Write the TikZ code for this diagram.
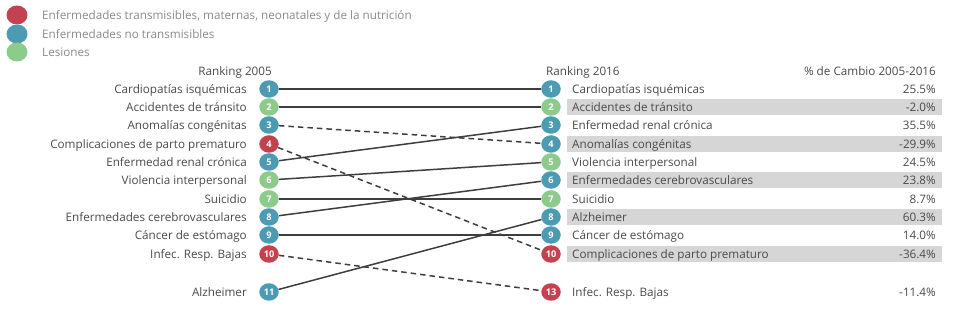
\documentclass[tikz,border=0pt]{standalone}
\usepackage{fontspec}
\setmainfont{Open Sans}
\usetikzlibrary{shapes.geometric}
\definecolor{cred}{HTML}{C4424F}
\definecolor{cblue}{HTML}{4C9BB2}
\definecolor{cgreen}{HTML}{8CCB8C}
\definecolor{ctext}{HTML}{4A4A4A}
\definecolor{clegend}{HTML}{8A8A8A}
\definecolor{cband}{HTML}{D6D6D6}
\definecolor{cline}{HTML}{3E3E3E}
\tikzset{
  rk/.style={ellipse, inner sep=0pt, minimum width=19.5pt, minimum height=17.5pt, text=white, font=\fontsize{9.2}{9}\selectfont\bfseries},
  rr/.style={rk, fill=cred},
  rb/.style={rk, fill=cblue},
  rg/.style={rk, fill=cgreen},
  lab/.style={font=\fontsize{11.7}{12}\selectfont, text=ctext, inner sep=0pt, text height=11pt, text depth=2pt},
  lleft/.style={lab, anchor=east},
  lright/.style={lab, anchor=west},
  pct/.style={lab, anchor=east},
  leg/.style={lab, text=clegend, anchor=west},
  legdot/.style={ellipse, minimum width=21pt, minimum height=19pt, inner sep=0pt},
  conn/.style={draw=cline, line width=1.5pt},
  dconn/.style={conn, dash pattern=on 5.5pt off 4pt}
}
\begin{document}
\begin{tikzpicture}[x=1pt,y=-1pt]
\useasboundingbox (0,0) rectangle (963,328);
% legend
\node[legdot, fill=cred] (l1) at (17,15) {};
\node[legdot, fill=cblue] (l2) at (17,34) {};
\node[legdot, fill=cgreen] (l3) at (17,52) {};
\node[leg] (t1) at (42,15) {Enfermedades transmisibles, maternas, neonatales y de la nutrición};
\node[leg] (t2) at (42,34) {Enfermedades no transmisibles};
\node[leg] (t3) at (42,52) {Lesiones};
% headers
\node[lab, anchor=east] (h1) at (272,71) {Ranking 2005};
\node[lab, anchor=west] (h2) at (546,71) {Ranking 2016};
\node[lab, anchor=east] (h3) at (936,71) {\% de Cambio 2005-2016};
% bands
\foreach \y in {107,144,180,217,254} {
  \fill[cband] (567,\y-8.3) rectangle (942,\y+8.3);
}
% left side
\node[rb] (a1) at (269,89) {1};
\node[rg] (a2) at (269,107) {2};
\node[rb] (a3) at (269,125) {3};
\node[rr] (a4) at (269,144) {4};
\node[rb] (a5) at (269,162) {5};
\node[rg] (a6) at (269,180) {6};
\node[rg] (a7) at (269,199) {7};
\node[rb] (a8) at (269,217) {8};
\node[rb] (a9) at (269,235) {9};
\node[rr] (a10) at (269,254) {10};
\node[rb] (a11) at (269,292) {11};
\node[lleft] at (247,89) {Cardiopatías isquémicas};
\node[lleft] at (247,107) {Accidentes de tránsito};
\node[lleft] at (247,125) {Anomalías congénitas};
\node[lleft] at (247,144) {Complicaciones de parto prematuro};
\node[lleft] at (247,162) {Enfermedad renal crónica};
\node[lleft] at (247,180) {Violencia interpersonal};
\node[lleft] at (247,199) {Suicidio};
\node[lleft] at (247,217) {Enfermedades cerebrovasculares};
\node[lleft] at (247,235) {Cáncer de estómago};
\node[lleft] at (247,254) {Infec. Resp. Bajas};
\node[lleft] at (247,292) {Alzheimer};
% right side
\node[rb] (b1) at (551,89) {1};
\node[rg] (b2) at (551,107) {2};
\node[rb] (b3) at (551,125) {3};
\node[rb] (b4) at (551,144) {4};
\node[rg] (b5) at (551,162) {5};
\node[rb] (b6) at (551,180) {6};
\node[rg] (b7) at (551,199) {7};
\node[rb] (b8) at (551,217) {8};
\node[rb] (b9) at (551,235) {9};
\node[rr] (b10) at (551,254) {10};
\node[rr] (b13) at (551,292) {13};
\node[lright] at (572,89) {Cardiopatías isquémicas};
\node[lright] at (572,107) {Accidentes de tránsito};
\node[lright] at (572,125) {Enfermedad renal crónica};
\node[lright] at (572,144) {Anomalías congénitas};
\node[lright] at (572,162) {Violencia interpersonal};
\node[lright] at (572,180) {Enfermedades cerebrovasculares};
\node[lright] at (572,199) {Suicidio};
\node[lright] at (572,217) {Alzheimer};
\node[lright] at (572,235) {Cáncer de estómago};
\node[lright] at (572,254) {Complicaciones de parto prematuro};
\node[lright] at (572,292) {Infec. Resp. Bajas};
\node[pct] at (936,89) {25.5\%};
\node[pct] at (936,107) {-2.0\%};
\node[pct] at (936,125) {35.5\%};
\node[pct] at (936,144) {-29.9\%};
\node[pct] at (936,162) {24.5\%};
\node[pct] at (936,180) {23.8\%};
\node[pct] at (936,199) {8.7\%};
\node[pct] at (936,217) {60.3\%};
\node[pct] at (936,235) {14.0\%};
\node[pct] at (936,254) {-36.4\%};
\node[pct] at (936,292) {-11.4\%};
% connectors
\draw[conn] (a1) -- (b1);
\draw[conn] (a2) -- (b2);
\draw[dconn] (a3) -- (b4);
\draw[dconn] (a4) -- (b10);
\draw[conn] (a5) -- (b3);
\draw[conn] (a6) -- (b5);
\draw[conn] (a7) -- (b7);
\draw[conn] (a8) -- (b6);
\draw[conn] (a9) -- (b9);
\draw[dconn] (a10) -- (b13);
\draw[conn] (a11) -- (b8);
\end{tikzpicture}
\end{document}
